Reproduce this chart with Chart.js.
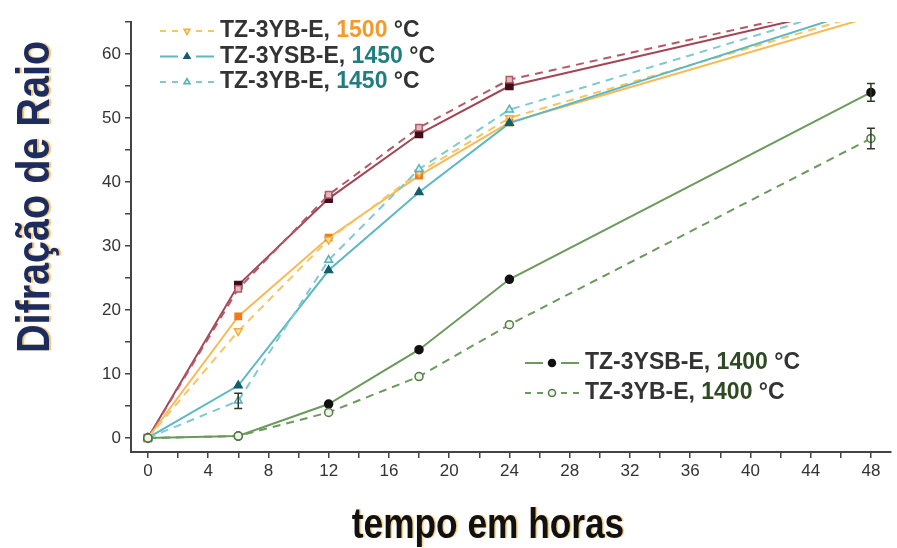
<!DOCTYPE html>
<html>
<head>
<meta charset="utf-8">
<script src="https://cdn.jsdelivr.net/npm/chart.js@4.4.1/dist/chart.umd.min.js"></script>
<style>
  html, body { margin: 0; padding: 0; background: #fff; }
  #box { width: 897px; height: 548px; }
</style>
</head>
<body>
<div id="box"><canvas id="grafico"></canvas></div>
<script>
// tempo (h) e difração medida em cada amostra
const horas = [0, 6, 12, 18, 24, 48];

const bordoCheio     = [0, 23.9, 37.4, 47.5, 55.0, 68.0];
const bordoTracejado = [0, 23.3, 38.0, 48.5, 56.0, 68.5];
const ysb1500        = [0, 19.0, 31.3, 41.0, 49.3, 65.8];
const yb1500         = [0, 16.7, 31.0, 41.5, 50.0, 66.5];
const ysb1450        = [0, 8.2, 26.2, 38.4, 49.2, 67.3];
const yb1450         = [0, 5.8, 27.8, 42.0, 51.3, 68.3];
const ysb1400        = [0, 0.3, 5.3, 13.8, 24.8, 54.0];
const yb1400         = [0, 0.3, 4.0, 9.6, 17.7, 46.8];

// desvios (barras de erro)
const erroYb1450  = [0, 1.2, 0, 0, 0, 0];
const erroYsb1400 = [0, 0, 0, 0, 0, 1.4];
const erroYb1400  = [0, 0, 0, 0, 0, 1.6];

const ticksX = [0, 4, 8, 12, 16, 20, 24, 28, 32, 36, 40, 44, 48];
const ticksY = [0, 10, 20, 30, 40, 50, 60];

function pontos(valores) {
  return horas.map((h, i) => ({ x: h, y: valores[i] }));
}

function serie(label, valores, linha, marcador, fundo, estilo, tracejado, extra) {
  return Object.assign({
    label: label,
    data: pontos(valores),
    borderColor: linha,
    backgroundColor: fundo,
    pointBorderColor: marcador,
    pointBackgroundColor: fundo,
    pointStyle: estilo,
    pointRadius: 4.5,
    pointBorderWidth: 1.5,
    borderWidth: 2,
    borderDash: tracejado ? [8, 6] : [],
    tension: 0
  }, extra || {});
}

const sBordo    = serie('bordo', bordoCheio, '#a24656', '#3f0e1a', '#3f0e1a', 'rect', false, { pointRadius: 5 });
const sBordoTr  = serie('bordo tracejado', bordoTracejado, '#b65866', '#b65866', '#e8b8c0', 'rect', true);
const sYsb1500  = serie('TZ-3YSB-E 1500', ysb1500, '#f6bb55', '#f07a18', '#f07a18', 'rect', false);
const sYb1500   = serie('TZ-3YB-E 1500', yb1500, '#f7c563', '#f0b040', '#fbe0a0', 'triangle', true, { pointRotation: 180 });
const sYsb1450  = serie('TZ-3YSB-E 1450', ysb1450, '#5cb8c2', '#125f6c', '#125f6c', 'triangle', false);
const sYb1450   = serie('TZ-3YB-E 1450', yb1450, '#80c9d1', '#58b0ba', '#d8f0f2', 'triangle', true, { erro: erroYb1450 });
const sYsb1400  = serie('TZ-3YSB-E 1400', ysb1400, '#6c9a5c', '#111', '#111', 'circle', false, { erro: erroYsb1400, pointRadius: 4 });
const sYb1400   = serie('TZ-3YB-E 1400', yb1400, '#6c9a5c', '#557a48', '#eef4ea', 'circle', true, { erro: erroYb1400, pointRadius: 4 });

// ordem de desenho: verdes por cima
const datasets = [sBordo, sBordoTr, sYsb1500, sYb1500, sYsb1450, sYb1450, sYsb1400, sYb1400].reverse();

const legendaCima = [
  { nome: 'TZ-3YB-E, ', temp: '1500', corTemp: '#f39a2a', ds: sYb1500 },
  { nome: 'TZ-3YSB-E, ', temp: '1450', corTemp: '#1f7f80', ds: sYsb1450 },
  { nome: 'TZ-3YB-E, ', temp: '1450', corTemp: '#1f7f80', ds: sYb1450 }
];
const legendaBaixo = [
  { nome: 'TZ-3YSB-E, ', temp: '1400', corTemp: '#2e4a22', ds: sYsb1400 },
  { nome: 'TZ-3YB-E, ', temp: '1400', corTemp: '#2e4a22', ds: sYb1400 }
];

const extras = {
  id: 'extras',
  afterDatasetsDraw(chart) {
    const ctx = chart.ctx;
    const sx = chart.scales.x, sy = chart.scales.y;
    ctx.save();
    chart.data.datasets.forEach(ds => {
      if (!ds.erro) return;
      ds.erro.forEach((e, i) => {
        if (!e) return;
        const x = sx.getPixelForValue(ds.data[i].x);
        const y1 = sy.getPixelForValue(ds.data[i].y - e);
        const y2 = sy.getPixelForValue(ds.data[i].y + e);
        ctx.strokeStyle = '#2c3a26';
        ctx.lineWidth = 1.5;
        ctx.beginPath();
        ctx.moveTo(x, y1); ctx.lineTo(x, y2);
        ctx.moveTo(x - 4, y1); ctx.lineTo(x + 4, y1);
        ctx.moveTo(x - 4, y2); ctx.lineTo(x + 4, y2);
        ctx.stroke();
      });
    });
    ctx.restore();
  },
  afterDraw(chart) {
    const ctx = chart.ctx;
    const desenhaLegenda = (itens, x0, y0, passo) => {
      itens.forEach((it, i) => {
        const ds = it.ds;
        const y = y0 + i * passo;
        ctx.save();
        ctx.strokeStyle = ds.borderColor;
        ctx.lineWidth = 2;
        ctx.setLineDash(ds.borderDash.length ? [6, 6] : []);
        ctx.beginPath();
        ctx.moveTo(x0, y); ctx.lineTo(x0 + 18, y);
        ctx.moveTo(x0 + 36, y); ctx.lineTo(x0 + 54, y);
        ctx.stroke();
        ctx.setLineDash([]);
        ctx.fillStyle = ds.pointBackgroundColor;
        ctx.strokeStyle = ds.pointBorderColor;
        ctx.lineWidth = 1.5;
        Chart.helpers.drawPoint(ctx, {
          pointStyle: ds.pointStyle, rotation: ds.pointRotation || 0,
          radius: 3.5, borderWidth: 1.5
        }, x0 + 27, y);
        ctx.font = 'bold 23px "Liberation Sans", Arial, sans-serif';
        ctx.textBaseline = 'middle';
        let tx = x0 + 60;
        ctx.fillStyle = '#333';
        ctx.fillText(it.nome, tx, y);
        tx += ctx.measureText(it.nome).width;
        ctx.fillStyle = it.corTemp;
        ctx.fillText(it.temp, tx, y);
        tx += ctx.measureText(it.temp + ' ').width;
        ctx.fillStyle = '#333';
        ctx.fillText('°C', tx, y);
        ctx.restore();
      });
    };
    desenhaLegenda(legendaCima, 160, 31, 25.5);
    desenhaLegenda(legendaBaixo, 525, 363, 30);

    // títulos dos eixos
    ctx.save();
    ctx.translate(36, 197);
    ctx.rotate(-Math.PI / 2);
    ctx.scale(0.86, 1);
    ctx.font = 'bold 46px "Liberation Sans", Arial, sans-serif';
    ctx.textAlign = 'center';
    ctx.textBaseline = 'middle';
    ctx.shadowColor = 'rgba(240,170,50,0.7)';
    ctx.shadowOffsetX = 2;
    ctx.shadowBlur = 1;
    ctx.fillStyle = '#1d2c5e';
    ctx.fillText('Difração de Raio', 0, 0);
    ctx.restore();

    ctx.save();
    ctx.translate(488, 538);
    ctx.scale(0.82, 1);
    ctx.font = 'bold 43px "Liberation Sans", Arial, sans-serif';
    ctx.textAlign = 'center';
    ctx.textBaseline = 'alphabetic';
    ctx.shadowColor = 'rgba(240,170,50,0.6)';
    ctx.shadowOffsetX = 1.5;
    ctx.shadowBlur = 1;
    ctx.fillStyle = '#111';
    ctx.fillText('tempo em horas', 0, 0);
    ctx.restore();
  }
};

const corEixo = '#444';

new Chart(document.getElementById('grafico'), {
  type: 'line',
  data: { datasets: datasets },
  options: {
    responsive: true,
    maintainAspectRatio: false,
    animation: false,
    layout: { padding: { left: 0, right: 0, top: 22, bottom: 56 } },
    plugins: { legend: { display: false }, tooltip: { enabled: false } },
    scales: {
      x: {
        type: 'linear',
        min: -1.12,
        max: 49.3,
        afterFit: s => { s.height = 40; },
        afterBuildTicks: s => { s.ticks = []; for (let v = 0; v <= 48; v += 2) s.ticks.push({ value: v }); },
        border: { display: true, color: corEixo, width: 2 },
        grid: { drawOnChartArea: false, drawTicks: true, tickLength: 6, color: corEixo, lineWidth: 1.5 },
        ticks: {
          padding: 3,
          color: '#333',
          font: { family: '"Liberation Sans", Arial, sans-serif', size: 17 },
          callback: v => ticksX.includes(v) ? String(v) : ''
        }
      },
      y: {
        min: -2.19,
        max: 65,
        afterFit: s => { s.width = 131; },
        afterBuildTicks: s => { s.ticks = []; for (let v = 0; v <= 65; v += 5) s.ticks.push({ value: v }); },
        border: { display: true, color: corEixo, width: 2 },
        grid: { drawOnChartArea: false, drawTicks: true, tickLength: 6, color: corEixo, lineWidth: 1.5 },
        ticks: {
          padding: 4,
          color: '#333',
          font: { family: '"Liberation Sans", Arial, sans-serif', size: 17 },
          callback: v => ticksY.includes(v) ? String(v) : ''
        }
      }
    }
  },
  plugins: [extras]
});
</script>
</body>
</html>
